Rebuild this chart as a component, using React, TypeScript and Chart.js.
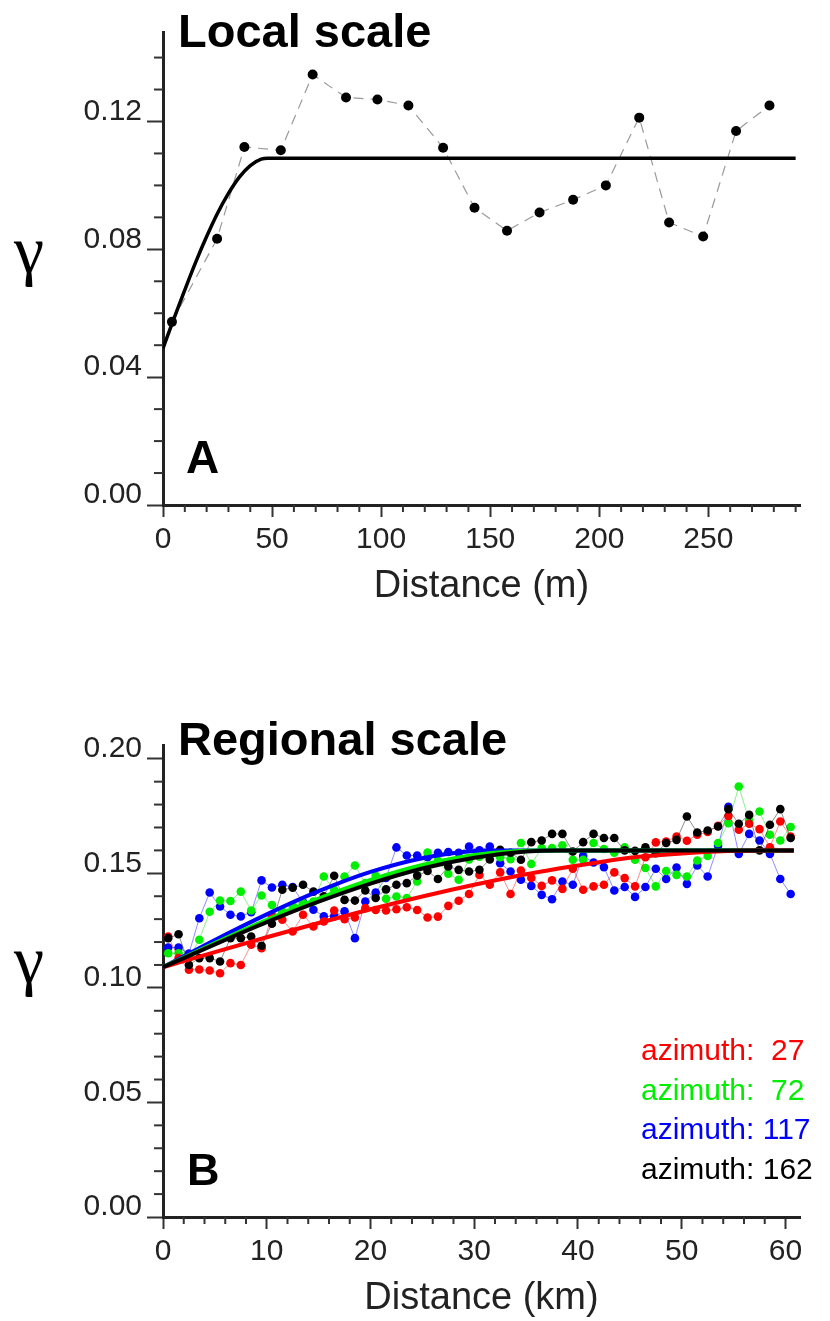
import React, { useEffect, useRef } from "react";
import { Chart, registerables } from "chart.js";

Chart.register(...registerables);

const SANS = "'Liberation Sans', Arial, Helvetica, sans-serif";
const SERIF = "'Liberation Serif', 'Times New Roman', serif";

// ---------- Panel A: local scale ----------
const LOCAL_DIST = [4.1, 24.8, 37.3, 54, 68.6, 83.9, 98.3, 112.5, 128.4, 142.8, 157.7, 172.6, 188, 203, 218.3, 232, 247.6, 262.7, 278];
const LOCAL_GAMMA = [0.0573, 0.0833, 0.112, 0.111, 0.1347, 0.1275, 0.1269, 0.125, 0.1118, 0.093, 0.0858, 0.0915, 0.0955, 0.1, 0.1212, 0.0884, 0.084, 0.117, 0.125];
const LOCAL_MODEL_DIST = [0, 5, 10, 15, 20, 25, 30, 35, 40, 45, 48, 290];
const LOCAL_MODEL_GAMMA = [0.049, 0.0583, 0.0673, 0.076, 0.084, 0.0913, 0.0975, 0.1026, 0.1062, 0.1082, 0.1085, 0.1085];
const LOCAL_X_TICKS = [0, 50, 100, 150, 200, 250];
const LOCAL_X_MINOR = [10, 20, 30, 40, 60, 70, 80, 90, 110, 120, 130, 140, 160, 170, 180, 190, 210, 220, 230, 240, 260, 270, 280, 290];
const LOCAL_Y_TICKS = [0, 0.04, 0.08, 0.12];
const LOCAL_Y_MINOR = [0.01, 0.02, 0.03, 0.05, 0.06, 0.07, 0.09, 0.1, 0.11, 0.13, 0.14];

// ---------- Panel B: regional scale ----------
const REG_DIST = [0.5, 1.5, 2.5, 3.5, 4.5, 5.5, 6.5, 7.5, 8.5, 9.5, 10.5, 11.5, 12.5, 13.5, 14.5, 15.5, 16.5, 17.5, 18.5, 19.5, 20.5, 21.5, 22.5, 23.5, 24.5, 25.5, 26.5, 27.5, 28.5, 29.5, 30.5, 31.5, 32.5, 33.5, 34.5, 35.5, 36.5, 37.5, 38.5, 39.5, 40.5, 41.5, 42.5, 43.5, 44.5, 45.5, 46.5, 47.5, 48.5, 49.5, 50.5, 51.5, 52.5, 53.5, 54.5, 55.5, 56.5, 57.5, 58.5, 59.5, 60.5];
const AZ27 = [0.1224, 0.113, 0.1079, 0.108, 0.1076, 0.1064, 0.1108, 0.11, 0.1188, 0.1173, 0.1312, 0.1297, 0.1246, 0.1319, 0.1268, 0.129, 0.1338, 0.13, 0.1307, 0.1348, 0.134, 0.1338, 0.1343, 0.1352, 0.134, 0.1307, 0.1311, 0.1358, 0.138, 0.141, 0.1493, 0.145, 0.1504, 0.141, 0.1512, 0.148, 0.1445, 0.1469, 0.1432, 0.152, 0.1428, 0.1443, 0.145, 0.1504, 0.1479, 0.1443, 0.157, 0.1635, 0.1639, 0.166, 0.1642, 0.1668, 0.168, 0.1707, 0.175, 0.169, 0.1716, 0.1693, 0.1614, 0.1726, 0.166];
const AZ72 = [0.1151, 0.1151, 0.113, 0.121, 0.1332, 0.1381, 0.1379, 0.142, 0.1338, 0.1403, 0.1362, 0.1333, 0.136, 0.137, 0.1377, 0.1486, 0.1428, 0.1486, 0.1534, 0.1457, 0.1489, 0.1389, 0.1399, 0.1392, 0.1464, 0.1591, 0.1556, 0.1498, 0.1472, 0.156, 0.1573, 0.158, 0.157, 0.1562, 0.1632, 0.1541, 0.161, 0.161, 0.1622, 0.1559, 0.1559, 0.1632, 0.1606, 0.159, 0.1613, 0.1559, 0.1523, 0.1443, 0.151, 0.1493, 0.1486, 0.1556, 0.1576, 0.1632, 0.1719, 0.1879, 0.173, 0.177, 0.1668, 0.1643, 0.1702];
const AZ117 = [0.1176, 0.1176, 0.115, 0.1304, 0.1416, 0.1355, 0.1319, 0.1312, 0.133, 0.1469, 0.1438, 0.145, 0.144, 0.1373, 0.1341, 0.1312, 0.1312, 0.1334, 0.1217, 0.1377, 0.1416, 0.148, 0.1613, 0.1578, 0.1578, 0.157, 0.159, 0.1593, 0.159, 0.1617, 0.16, 0.1617, 0.1544, 0.1508, 0.1472, 0.1445, 0.1406, 0.1387, 0.1464, 0.145, 0.1576, 0.1547, 0.1527, 0.1425, 0.144, 0.1397, 0.144, 0.152, 0.1475, 0.1525, 0.1454, 0.1534, 0.1486, 0.162, 0.179, 0.1585, 0.1672, 0.1643, 0.1585, 0.1475, 0.141];
const AZ162 = [0.1217, 0.1234, 0.11, 0.113, 0.113, 0.1115, 0.1217, 0.1217, 0.1224, 0.1184, 0.128, 0.1428, 0.1437, 0.145, 0.142, 0.14, 0.1489, 0.1384, 0.1381, 0.1425, 0.1392, 0.143, 0.145, 0.1457, 0.149, 0.151, 0.1475, 0.153, 0.1515, 0.1508, 0.1515, 0.156, 0.1603, 0.159, 0.1559, 0.1636, 0.1643, 0.1672, 0.1672, 0.1595, 0.1636, 0.1672, 0.1654, 0.1654, 0.16, 0.1598, 0.1614, 0.1588, 0.1632, 0.1646, 0.1748, 0.1678, 0.1687, 0.1704, 0.178, 0.1716, 0.1755, 0.16, 0.1712, 0.178, 0.1654];

const MODEL27_DIST = [0, 5, 10, 15, 20, 25, 30, 35, 40, 45, 50, 55, 58, 60.8];
const MODEL27 = [0.109, 0.1156, 0.1221, 0.1283, 0.1343, 0.1399, 0.145, 0.1496, 0.1534, 0.1568, 0.1586, 0.1598, 0.16, 0.16];
const MODEL72_DIST = [0, 5, 10, 15, 20, 25, 30, 36, 60.8];
const MODEL72 = [0.109, 0.1196, 0.1297, 0.139, 0.1471, 0.1536, 0.158, 0.16, 0.16];
const MODEL117_DIST = [0, 5, 10, 15, 20, 25, 30, 32, 60.8];
const MODEL117 = [0.109, 0.1209, 0.1321, 0.1422, 0.1506, 0.1566, 0.1597, 0.16, 0.16];
const MODEL162_DIST = [0, 5, 10, 15, 20, 25, 30, 35, 38, 60.8];
const MODEL162 = [0.109, 0.119, 0.1287, 0.1376, 0.1455, 0.1521, 0.1568, 0.1595, 0.16, 0.16];

const REG_X_TICKS = [0, 10, 20, 30, 40, 50, 60];
const REG_X_MINOR = [2, 4, 6, 8, 12, 14, 16, 18, 22, 24, 26, 28, 32, 34, 36, 38, 42, 44, 46, 48, 52, 54, 56, 58];
const REG_Y_TICKS = [0, 0.05, 0.1, 0.15, 0.2];
const REG_Y_MINOR = [0.01, 0.02, 0.03, 0.04, 0.06, 0.07, 0.08, 0.09, 0.11, 0.12, 0.13, 0.14, 0.16, 0.17, 0.18, 0.19];

const LEGEND_LABELS = ["azimuth:  27", "azimuth:  72", "azimuth: 117", "azimuth: 162"];
const SERIES_COLORS = ["#ff0000", "#00ee00", "#0000ff", "#000000"];
const SERIES_LINE_COLORS = ["rgba(255,0,0,0.45)", "rgba(0,220,0,0.45)", "rgba(0,0,255,0.45)", "rgba(0,0,0,0.45)"];

const pts = (xs: number[], ys: number[]) => xs.map((x, i) => ({ x, y: ys[i] }));

const minorTickPlugin = {
  id: "minorTicks",
  afterDraw(chart: any, _args: any, opts: any) {
    const ctx = chart.ctx;
    const xs = chart.scales.x;
    const ys = chart.scales.y;
    ctx.save();
    ctx.strokeStyle = "#333";
    ctx.lineWidth = 2;
    for (const v of opts.x || []) {
      const px = xs.getPixelForValue(v);
      ctx.beginPath();
      ctx.moveTo(px, xs.top);
      ctx.lineTo(px, xs.top + opts.xLen);
      ctx.stroke();
    }
    for (const v of opts.y || []) {
      const py = ys.getPixelForValue(v);
      ctx.beginPath();
      ctx.moveTo(ys.right, py);
      ctx.lineTo(ys.right - opts.yLen, py);
      ctx.stroke();
    }
    ctx.restore();
  },
};

function xAxis(max: number, ticks: number[], title: string) {
  return {
    type: "linear",
    position: "bottom",
    min: 0,
    max,
    afterBuildTicks: (s: any) => {
      s.ticks = ticks.map((v) => ({ value: v }));
    },
    afterFit: (s: any) => {
      s.height = 104;
    },
    ticks: {
      autoSkip: false,
      maxRotation: 0,
      font: { family: SANS, size: 30 },
      color: "#222",
      padding: 5,
      callback: (v: any) => String(v),
    },
    grid: { drawOnChartArea: false, tickLength: 12, tickWidth: 2, tickColor: "#333" },
    border: { display: true, color: "#222", width: 3 },
    title: {
      display: true,
      text: title,
      font: { family: SANS, size: 38 },
      color: "#222",
      padding: { top: 0, bottom: 0 },
    },
  };
}

function yAxis(max: number, ticks: number[]) {
  return {
    type: "linear",
    position: "left",
    min: 0,
    max,
    afterBuildTicks: (s: any) => {
      s.ticks = ticks.map((v) => ({ value: v }));
    },
    afterFit: (s: any) => {
      s.width = 163;
    },
    ticks: {
      font: { family: SANS, size: 30 },
      color: "#222",
      padding: 5,
      labelOffset: -10,
      callback: (v: any) => Number(v).toFixed(2),
    },
    grid: { drawOnChartArea: false, tickLength: 16, tickWidth: 2, tickColor: "#333" },
    border: { display: true, color: "#222", width: 3 },
  };
}

function localConfig(): any {
  return {
    type: "scatter",
    data: {
      datasets: [
        {
          data: pts(LOCAL_MODEL_DIST, LOCAL_MODEL_GAMMA),
          showLine: true,
          borderColor: "#000",
          borderWidth: 3.5,
          pointRadius: 0,
          cubicInterpolationMode: "monotone",
          order: 0,
        },
        {
          data: pts(LOCAL_DIST, LOCAL_GAMMA),
          showLine: true,
          borderColor: "#9a9a9a",
          borderWidth: 1.2,
          borderDash: [10, 7],
          pointRadius: 5,
          pointBackgroundColor: "#000",
          pointBorderWidth: 0,
          order: 1,
        },
      ],
    },
    options: {
      responsive: false,
      animation: false,
      layout: { padding: { left: 0, right: 30, top: 32, bottom: 27 } },
      plugins: {
        legend: { display: false },
        tooltip: { enabled: false },
        minorTicks: { x: LOCAL_X_MINOR, y: LOCAL_Y_MINOR, xLen: 7, yLen: 9 },
      },
      scales: {
        x: xAxis(292, LOCAL_X_TICKS, "Distance (m)"),
        y: yAxis(0.148, LOCAL_Y_TICKS),
      },
    },
    plugins: [minorTickPlugin],
  };
}

function regionalConfig(): any {
  const models = [
    [MODEL27_DIST, MODEL27],
    [MODEL72_DIST, MODEL72],
    [MODEL117_DIST, MODEL117],
    [MODEL162_DIST, MODEL162],
  ];
  const modelOrder = [1, 2, 3, 0];
  const series = [AZ27, AZ72, AZ117, AZ162];
  const seriesOrder = [5, 6, 7, 4];
  const datasets: any[] = [];
  models.forEach(([xs, ys], i) => {
    datasets.push({
      data: pts(xs, ys),
      showLine: true,
      borderColor: SERIES_COLORS[i],
      borderWidth: 4,
      pointRadius: 0,
      cubicInterpolationMode: "monotone",
      order: modelOrder[i],
    });
  });
  series.forEach((ys, i) => {
    datasets.push({
      data: pts(REG_DIST, ys),
      showLine: true,
      borderColor: SERIES_LINE_COLORS[i],
      borderWidth: 1,
      pointRadius: 4.3,
      pointBackgroundColor: SERIES_COLORS[i],
      pointBorderWidth: 0,
      order: seriesOrder[i],
    });
  });
  return {
    type: "scatter",
    data: { datasets },
    options: {
      responsive: false,
      animation: false,
      layout: { padding: { left: 0, right: 30, top: 109, bottom: 0 } },
      plugins: {
        legend: { display: false },
        tooltip: { enabled: false },
        minorTicks: { x: REG_X_MINOR, y: REG_Y_MINOR, xLen: 7, yLen: 9 },
      },
      scales: {
        x: xAxis(61.4, REG_X_TICKS, "Distance (km)"),
        y: yAxis(0.206, REG_Y_TICKS),
      },
    },
    plugins: [minorTickPlugin],
  };
}

function ChartCanvas({ make, top, height }: { make: () => any; top: number; height: number }) {
  const ref = useRef<HTMLCanvasElement | null>(null);
  useEffect(() => {
    const chart = new Chart(ref.current as HTMLCanvasElement, make());
    return () => chart.destroy();
  }, []);
  return (
    <canvas
      ref={ref}
      width={830}
      height={height}
      style={{ position: "absolute", left: 0, top, width: 830, height, display: "block" }}
    />
  );
}

function Label({ text, left, top, size, bold, color, serif }: any) {
  return (
    <div
      style={{
        position: "absolute",
        left,
        top,
        fontFamily: serif ? SERIF : SANS,
        fontSize: size,
        fontWeight: bold ? "bold" : "normal",
        lineHeight: 1,
        color: color || "#000",
        whiteSpace: "pre",
      }}
    >
      {text}
    </div>
  );
}

export default function App() {
  return (
    <div style={{ position: "absolute", left: 0, top: 0, width: 830, height: 1321, background: "#fff", overflow: "hidden" }}>
      <ChartCanvas make={localConfig} top={0} height={636} />
      <ChartCanvas make={regionalConfig} top={636} height={685} />
      <Label text="Local scale" left={178} top={7} size={47} bold />
      <Label text="A" left={186} top={434} size={46} bold />
      <Label text="γ" left={14} top={216} size={68} serif />
      <Label text="Regional scale" left={178} top={715} size={47} bold />
      <Label text="B" left={187} top={1147} size={45} bold />
      <Label text="γ" left={14} top={926} size={68} serif />
      {LEGEND_LABELS.map((t, i) => (
        <Label key={t} text={t} left={641} top={1035 + i * 39.5} size={30} color={SERIES_COLORS[i]} />
      ))}
    </div>
  );
}
